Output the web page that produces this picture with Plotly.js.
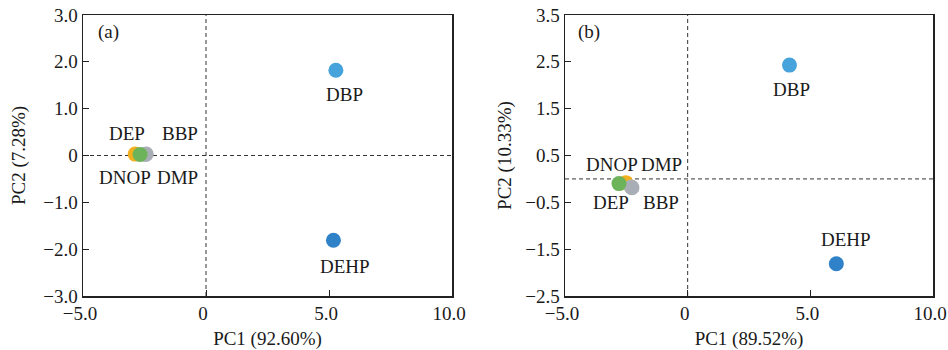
<!DOCTYPE html>
<html>
<head>
<meta charset="utf-8">
<script src="https://cdn.plot.ly/plotly-3.0.1.min.js"></script>
<style>html,body{margin:0;padding:0;background:#fff;}#chart{width:948px;height:350px;}</style>
</head>
<body>
<div id="chart"></div>
<script>
// ---- data ----
const compounds = ["DEP", "DMP", "BBP", "DNOP", "DBP", "DEHP"];
const colors = ["#f2b01e", "#aeb2ba", "#a9adb6", "#6db35a", "#46a3db", "#2f82c8"];
// panel (a)
const pc1_a = [-2.88, -2.47, -2.43, -2.68, 5.28, 5.18];
const pc2_a = [0.03, 0.02, 0.03, 0.02, 1.82, -1.81];
// panel (b)
const pc1_b = [-2.52, -2.30, -2.27, -2.80, 4.15, 6.06];
const pc2_b = [-0.08, -0.17, -0.19, -0.10, 2.43, -1.81];
const xTitleA = "PC1 (92.60%)", yTitleA = "PC2 (7.28%)";
const xTitleB = "PC1 (89.52%)", yTitleB = "PC2 (10.33%)";
const xTickVals = [-5, 0, 5, 10];
const xTickText = ["\u22125.0", "0", "5.0", "10.0"];
const yTickValsA = [-3, -2, -1, 0, 1, 2, 3];
const yTickTextA = ["\u22123.0", "\u22122.0", "\u22121.0", "0", "1.0", "2.0", "3.0"];
const yTickValsB = [-2.5, -1.5, -0.5, 0.5, 1.5, 2.5, 3.5];
const yTickTextB = ["\u22122.5", "\u22121.5", "\u22120.5", "0.5", "1.5", "2.5", "3.5"];

// label offsets (px) per compound, per panel
const offA = {DEP:[-8,21], DMP:[32,-23], BBP:[34,21], DNOP:[-15,-23], DBP:[9,-24], DEHP:[12,-26]};
const offB = {DEP:[-15,-20], DMP:[30,22], BBP:[29,-15], DNOP:[-7,19], DBP:[2,-24], DEHP:[10,24]};
const order = [0, 1, 2, 3, 4, 5];

const FONT = "'Liberation Serif', 'Times New Roman', Times, serif";
const traces = [];
const annotations = [];
function addPanel(xs, ys, xa, ya, off){
  order.forEach(i => {
    traces.push({
      x: [xs[i]], y: [ys[i]], xaxis: xa, yaxis: ya,
      type: "scatter", mode: "markers", name: compounds[i], showlegend: false,
      marker: {size: 15, color: colors[i], line: {width: 0}}
    });
    const o = off[compounds[i]];
    annotations.push({
      x: xs[i], y: ys[i], xref: xa, yref: ya, text: compounds[i], showarrow: false,
      xshift: o[0], yshift: o[1], font: {family: FONT, size: 19, color: "#1a1a1a"}
    });
  });
}
addPanel(pc1_a, pc2_a, "x", "y", offA);
addPanel(pc1_b, pc2_b, "x2", "y2", offB);

annotations.push({xref: "x domain", yref: "y domain", x: 0.035, y: 0.94, xanchor: "left", yanchor: "middle",
  text: "(a)", showarrow: false, font: {family: FONT, size: 19, color: "#1a1a1a"}});
annotations.push({xref: "x2 domain", yref: "y2 domain", x: 0.03, y: 0.94, xanchor: "left", yanchor: "middle",
  text: "(b)", showarrow: false, font: {family: FONT, size: 19, color: "#1a1a1a"}});

const dashLine = {color: "#333", width: 1, dash: "4px,3px"};
const shapes = [
  {type: "line", xref: "x", yref: "y domain", x0: 0, x1: 0, y0: 0, y1: 1, line: dashLine, layer: "below"},
  {type: "line", xref: "x domain", yref: "y", x0: 0, x1: 1, y0: 0, y1: 0, line: dashLine, layer: "below"},
  {type: "line", xref: "x2", yref: "y2 domain", x0: 0, x1: 0, y0: 0, y1: 1, line: dashLine, layer: "below"},
  {type: "line", xref: "x2 domain", yref: "y2", x0: 0, x1: 1, y0: 0, y1: 0, line: dashLine, layer: "below"}
];

function axis(domain, range, vals, text, title, anchor, standoff, shift){
  return {
    domain: domain, range: range, anchor: anchor, tickmode: "array", tickvals: vals, ticktext: text,
    ticks: "inside", ticklen: 6, tickwidth: 1, tickcolor: "#222",
    showline: true, linecolor: "#222", linewidth: 1.5, mirror: true,
    showgrid: false, zeroline: false, automargin: false,
    ticklabeloverflow: "allow", ticklabelshift: shift,
    tickfont: {family: FONT, size: 19, color: "#1a1a1a"},
    title: {text: title, font: {family: FONT, size: 19, color: "#1a1a1a"}, standoff: standoff}
  };
}
const yDom = [1 - 296/350, 1 - 15/350];
const layout = {
  width: 948, height: 350, margin: {l: 0, r: 0, t: 0, b: 0},
  paper_bgcolor: "#fff", plot_bgcolor: "#fff",
  xaxis: axis([83/948, 452/948], [-5, 10], xTickVals, xTickText, xTitleA, "y", 14, -3),
  yaxis: axis(yDom, [-3, 3], yTickValsA, yTickTextA, yTitleA, "x", 12, 0),
  xaxis2: axis([565/948, 933/948], [-5, 10], xTickVals, xTickText, xTitleB, "y2", 14, -3),
  yaxis2: axis(yDom, [-2.5, 3.5], yTickValsB, yTickTextB, yTitleB, "x2", 8, 0),
  annotations: annotations, shapes: shapes
};
Plotly.newPlot("chart", traces, layout, {displayModeBar: false, staticPlot: true});
</script>
</body>
</html>
